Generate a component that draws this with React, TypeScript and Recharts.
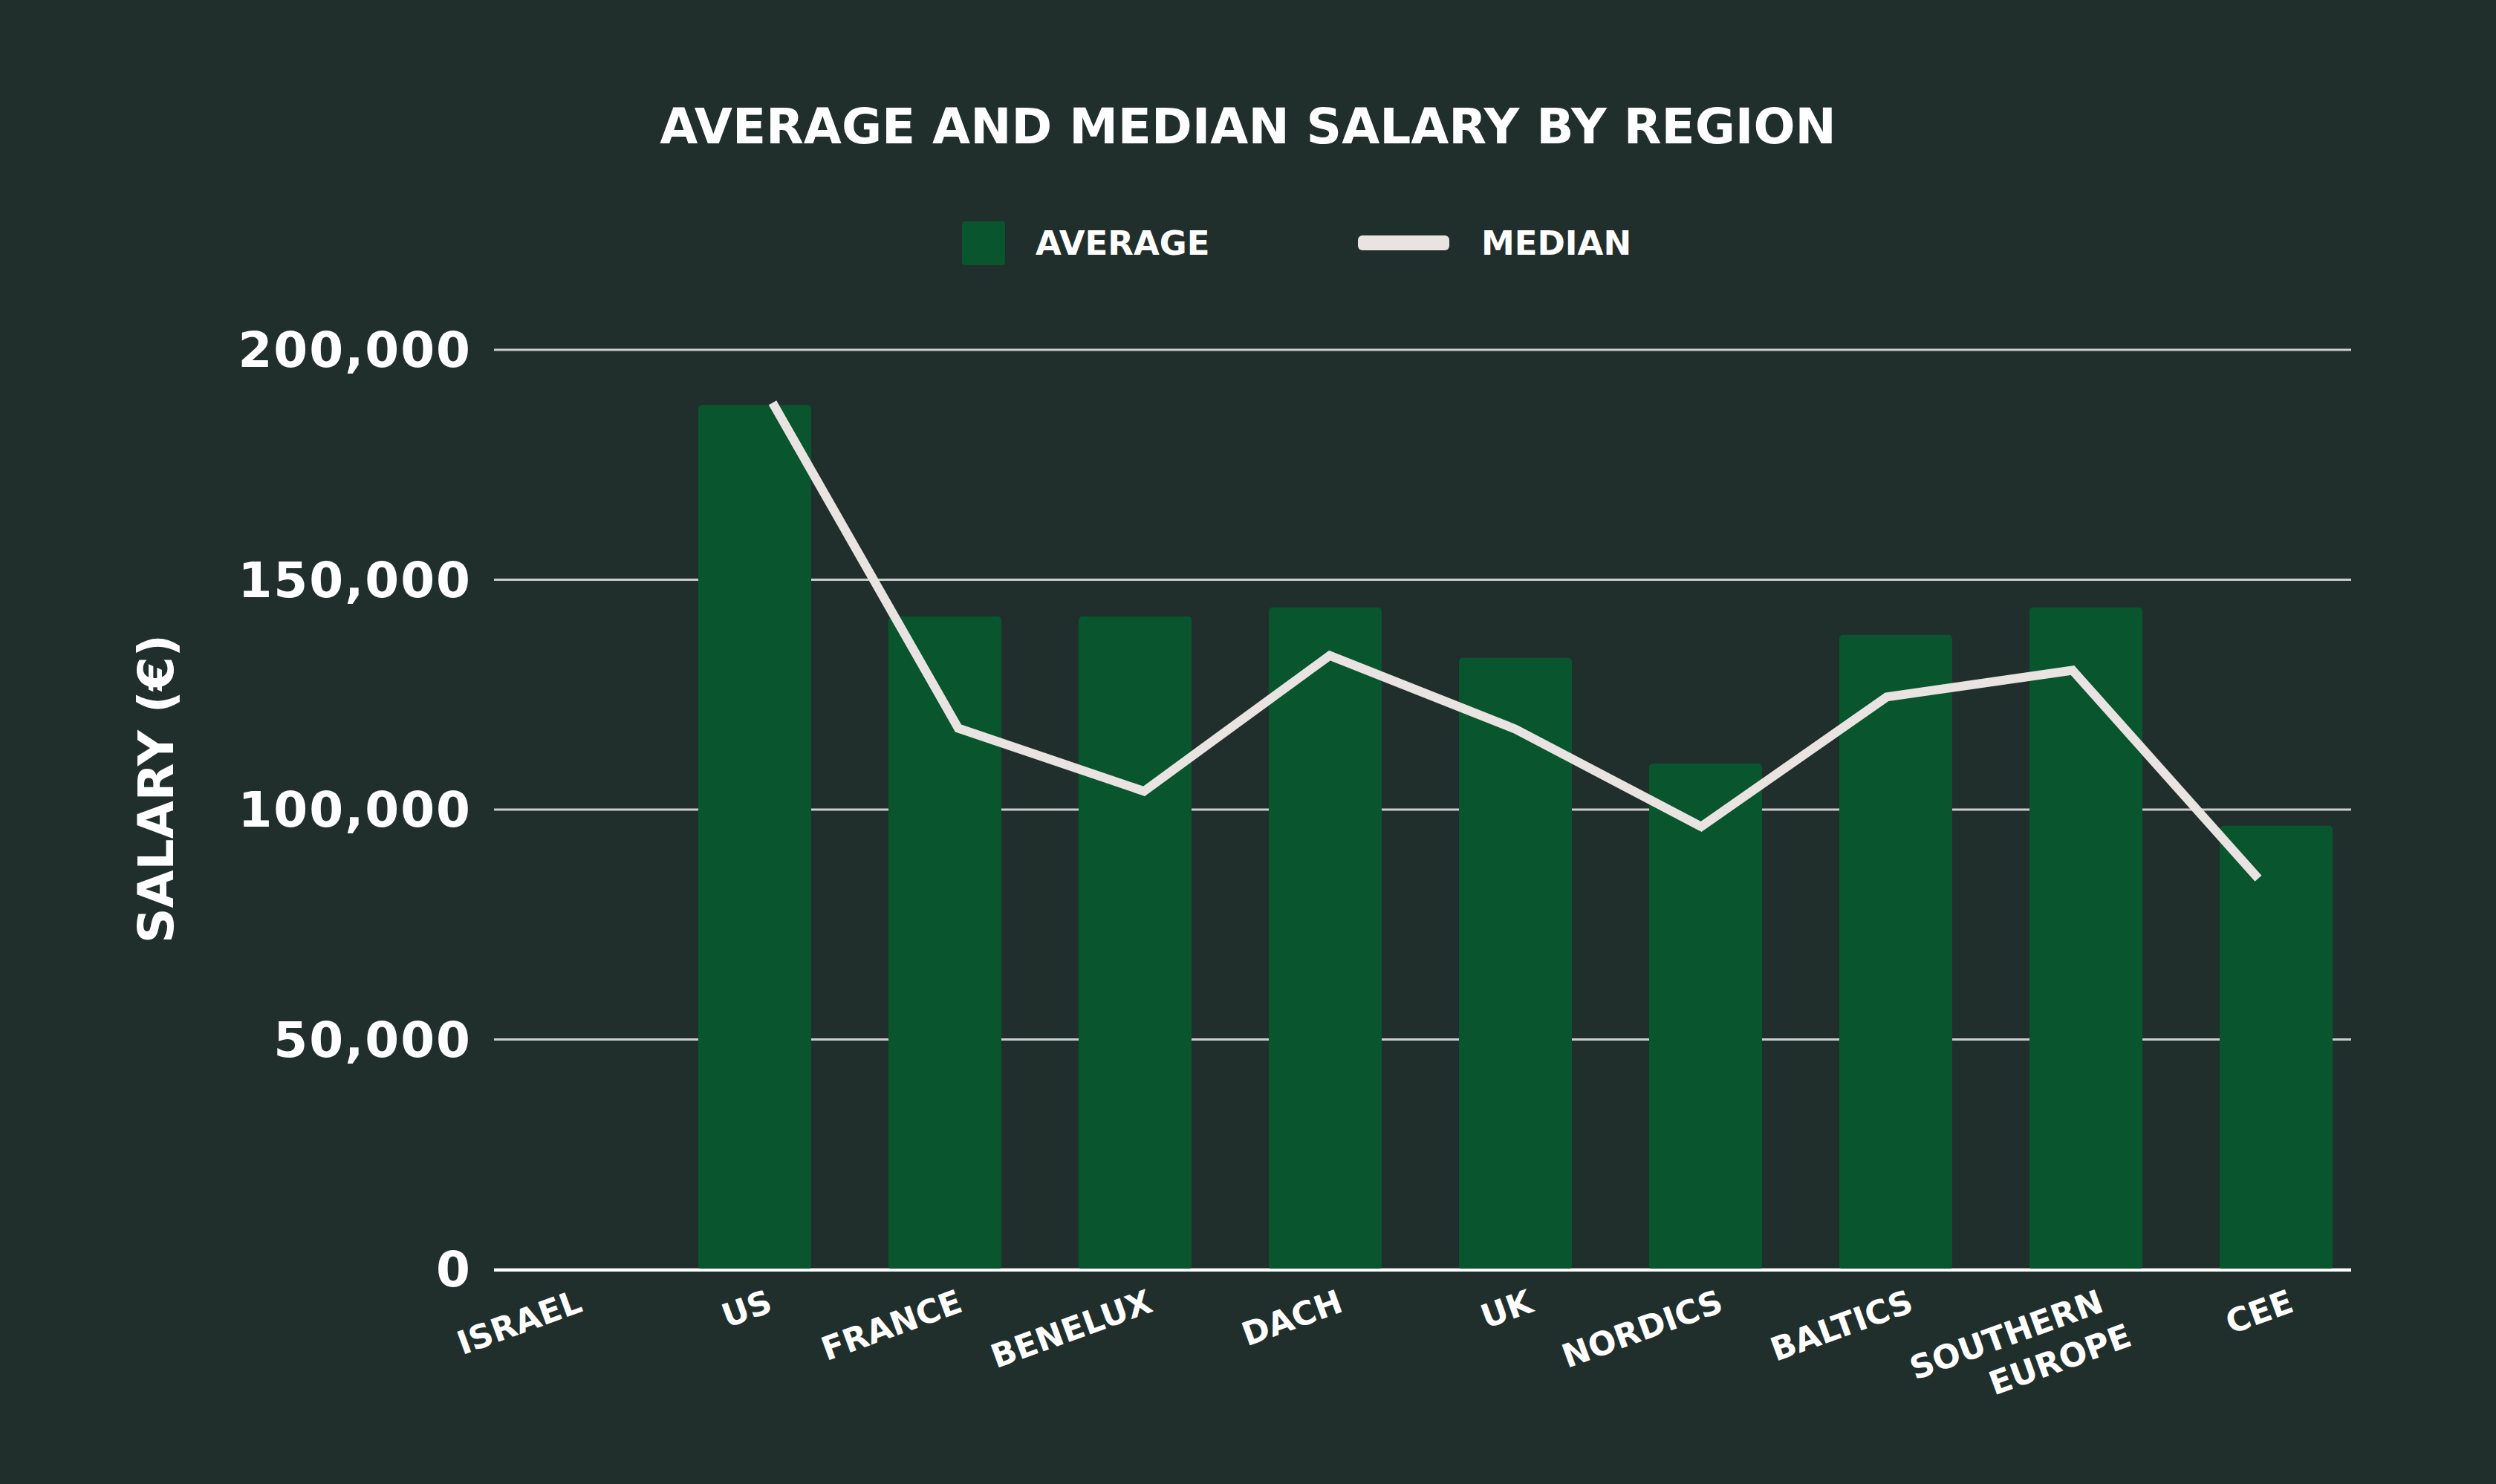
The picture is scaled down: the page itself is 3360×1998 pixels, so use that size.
import React from "react";
import {
  ComposedChart,
  Bar,
  Line,
  XAxis,
  YAxis,
  CartesianGrid,
  Legend,
  Label,
} from "recharts";

const regions = [
  "ISRAEL",
  "US",
  "FRANCE",
  "BENELUX",
  "DACH",
  "UK",
  "NORDICS",
  "BALTICS",
  "SOUTHERN EUROPE",
  "CEE",
];

const averageSalary = [null, 188000, 142000, 142000, 144000, 133000, 110000, 138000, 144000, 96500];
const medianSalary = [null, 188500, 117700, 104000, 133500, 117500, 96300, 124500, 130300, 85000];

const yTicks = [0, 50000, 100000, 150000, 200000];

const BG = "#212f2c";
const GREEN = "#08552e";
const LINE = "#e9e3e1";
const FONT = "'DejaVu Sans', sans-serif";

const data = regions.map((region, i) => ({
  region,
  average: averageSalary[i],
  median: medianSalary[i],
}));

// rotated category label, right end hanging under the bar
const RegionTick = (props: any) => {
  const { x, y, payload } = props;
  const lines = String(payload.value).split(" ");
  return (
    <g transform={`translate(${x + 26},${y + 56}) rotate(-20)`}>
      <text
        textAnchor="end"
        fill="#ffffff"
        fontSize={44}
        fontWeight={700}
        fontFamily={FONT}
      >
        {lines.map((l, i) => (
          <tspan key={i} x={i === 0 ? 0 : 20} dy={i === 0 ? 0 : 56}>
            {l}
          </tspan>
        ))}
      </text>
    </g>
  );
};

const YLabel = (props: any) => {
  const { viewBox } = props;
  const cx = viewBox.x + 210;
  const cy = viewBox.y + viewBox.height / 2 - 28;
  return (
    <text
      x={cx}
      y={cy}
      transform={`rotate(-90 ${cx} ${cy})`}
      textAnchor="middle"
      dominantBaseline="central"
      fill="#ffffff"
      fontSize={66}
      fontWeight={700}
      fontFamily={FONT}
    >
      SALARY (€)
    </text>
  );
};

const LegendContent = () => (
  <div
    style={{
      position: "relative",
      width: 900,
      height: 59,
      fontFamily: FONT,
      fontWeight: 700,
      fontSize: 45,
      color: "#ffffff",
    }}
  >
    <div
      style={{ position: "absolute", left: 0, top: 0, width: 58, height: 59, background: GREEN, borderRadius: 4 }}
    />
    <div style={{ position: "absolute", left: 99, top: 0, lineHeight: "59px" }}>AVERAGE</div>
    <div
      style={{ position: "absolute", left: 533, top: 19, width: 123, height: 20, background: LINE, borderRadius: 6 }}
    />
    <div style={{ position: "absolute", left: 699, top: 0, lineHeight: "59px" }}>MEDIAN</div>
  </div>
);

export default function App() {
  return (
    <div style={{ position: "relative", width: 3360, height: 1998, background: BG, overflow: "hidden" }}>
      <style>{"body{margin:0;}"}</style>
      <div
        style={{
          position: "absolute",
          top: 138,
          left: 0,
          width: 3360,
          textAlign: "center",
          fontFamily: FONT,
          fontWeight: 700,
          fontSize: 66,
          lineHeight: "66px",
          color: "#ffffff",
        }}
      >
        AVERAGE AND MEDIAN SALARY BY REGION
      </div>

      <ComposedChart
        width={3360}
        height={1998}
        data={data}
        margin={{ top: 471, right: 195, bottom: 0, left: 0 }}
      >
        <CartesianGrid
          xAxisId="line"
          vertical={false}
          stroke="#cdcdcd"
          strokeWidth={3}
        />

        {/* bars sit on a slightly wider band than the line points */}
        <XAxis
          xAxisId="bar"
          dataKey="region"
          height={1}
          interval={0}
          tickSize={0}
          tickMargin={0}
          tickLine={false}
          axisLine={false}
          padding={{ left: -33, right: -27 }}
          tick={<RegionTick />}
        />

        <XAxis
          xAxisId="line"
          dataKey="region"
          height={288}
          tick={false}
          tickLine={false}
          axisLine={{ stroke: "#ffffff", strokeWidth: 4 }}
        />

        <YAxis
          width={665}
          domain={[0, 200000]}
          ticks={yTicks}
          tickSize={0}
          tickMargin={30}
          axisLine={false}
          tickLine={false}
          tickFormatter={(v: number) => v.toLocaleString("en-US")}
          tick={{ fill: "#ffffff", fontSize: 66, fontWeight: 700, fontFamily: FONT, letterSpacing: 2 }}
        >
          <Label content={<YLabel />} />
        </YAxis>

        <Legend
          verticalAlign="middle"
          align="center"
          layout="horizontal"
          wrapperStyle={{ top: 298, left: 1295, width: 900, height: 59 }}
          content={<LegendContent />}
        />

        <Bar
          xAxisId="bar"
          dataKey="average"
          name="AVERAGE"
          fill={GREEN}
          barSize={152}
          radius={[5, 5, 5, 5]}
          isAnimationActive={false}
        />

        <Line
          xAxisId="line"
          dataKey="median"
          name="MEDIAN"
          stroke={LINE}
          strokeWidth={12}
          strokeLinejoin="miter"
          strokeLinecap="butt"
          dot={false}
          activeDot={false}
          type="linear"
          isAnimationActive={false}
        />
      </ComposedChart>
    </div>
  );
}
